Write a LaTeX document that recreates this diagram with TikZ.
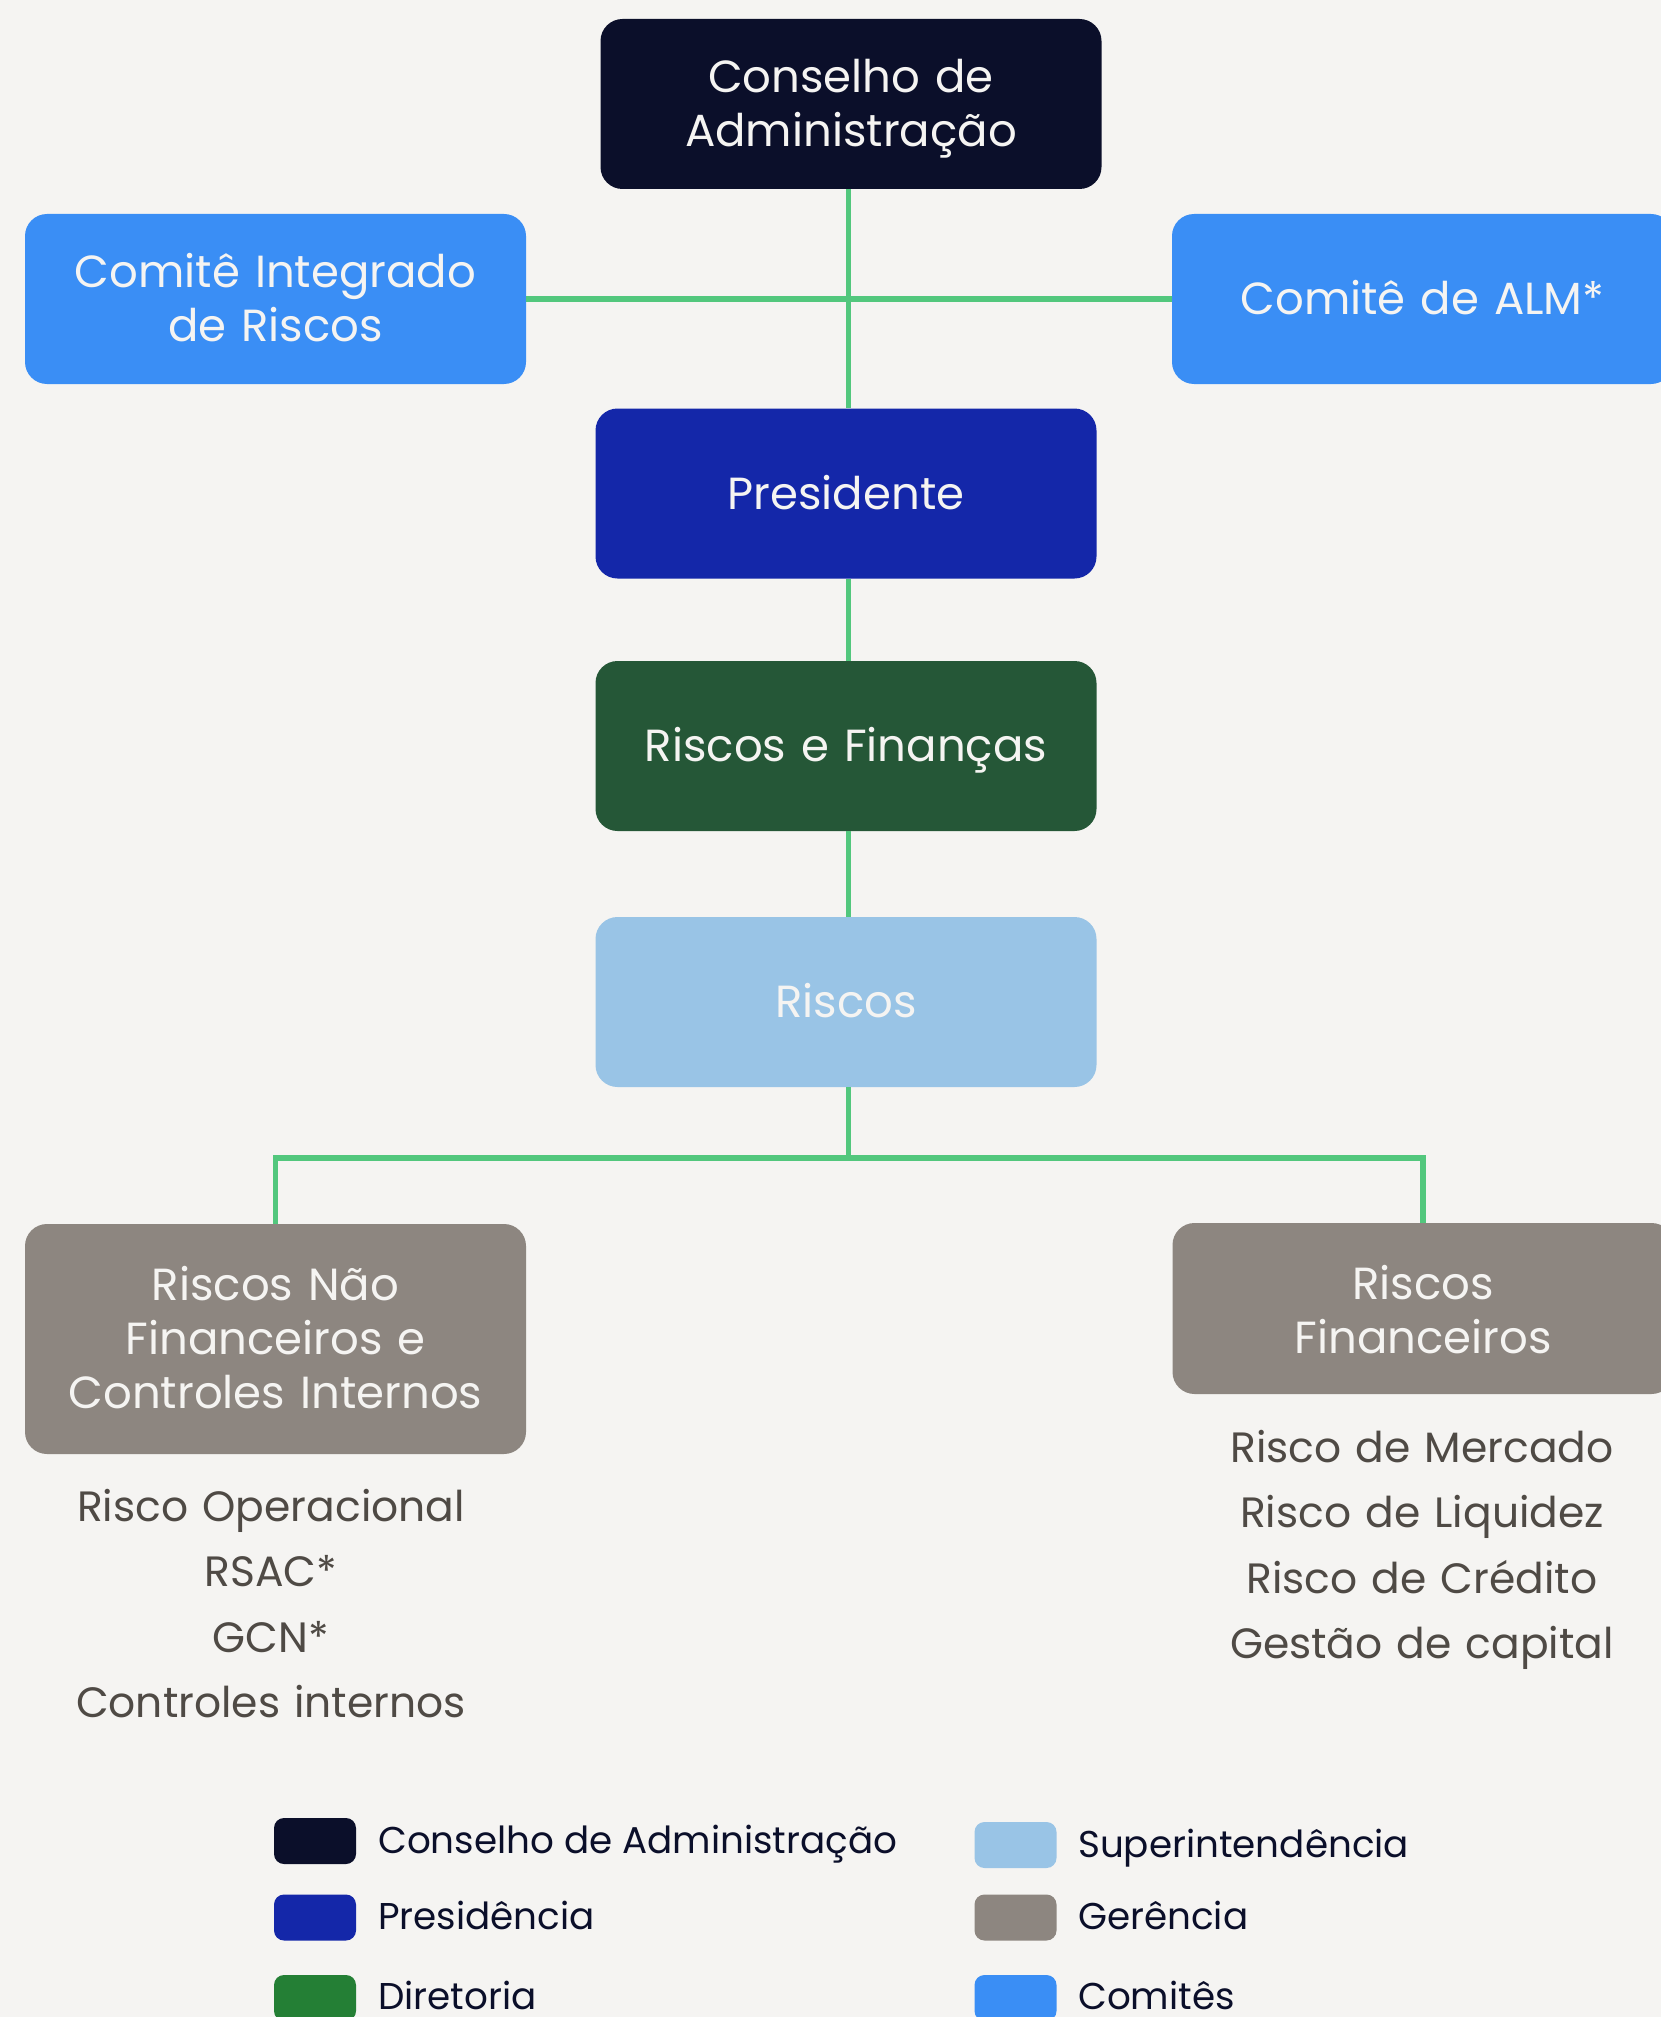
\documentclass[tikz,border=0pt]{standalone}
\usepackage{fontspec}
\setmainfont{Poppins}
\definecolor{bg}{HTML}{F5F4F2}
\definecolor{navy}{HTML}{0B0F2A}
\definecolor{pres}{HTML}{1427A9}
\definecolor{dirbox}{HTML}{255737}
\definecolor{dirleg}{HTML}{247F35}
\definecolor{supt}{HTML}{99C4E6}
\definecolor{ger}{HTML}{8D8680}
\definecolor{comite}{HTML}{3A8EF5}
\definecolor{conn}{HTML}{52C77D}
\definecolor{listtxt}{HTML}{4F4A45}
\definecolor{boxtxt}{HTML}{F5F4F2}
\begin{document}
\begin{tikzpicture}[x=1pt,y=-1pt,
  orgbox/.style={rectangle, rounded corners=22pt, inner sep=0pt,
    minimum width=501pt, minimum height=170pt, text width=495pt,
    align=center, text=boxtxt, font=\fontsize{45}{54}\selectfont,
    text height=31.5pt, text depth=0pt},
  twolines/.style={text depth=54pt},
  threelines/.style={text depth=108pt},
  connline/.style={draw=conn, line width=5.5pt, line cap=butt, line join=miter},
  itemlist/.style={inner sep=0pt, text width=540pt, align=center,
    text=listtxt, font=\fontsize{42.4}{65.5}\selectfont, anchor=base},
  swatch/.style={rectangle, rounded corners=10pt, inner sep=0pt,
    minimum width=82pt, minimum height=46pt},
  legtxt/.style={inner sep=0pt, anchor=base west, text=navy,
    font=\fontsize{37.3}{40}\selectfont}]
\clip (0,0) rectangle (1661,2017);
\fill[bg] (0,0) rectangle (1661,2017);

\coordinate (spine) at (848.5,0);
\coordinate (branch) at (848.5,1158);

% boxes
\node[orgbox, twolines, fill=navy] (cons) at (851,104) {Conselho de\\Administração};
\node[orgbox, twolines, fill=comite] (cir) at (275.5,299) {Comitê Integrado\\de Riscos};
\node[orgbox, fill=comite] (alm) at (1422.5,299) {Comitê de ALM*};
\node[orgbox, fill=pres] (pres) at (846,493.5) {Presidente};
\node[orgbox, fill=dirbox] (rf) at (846,746) {Riscos e Finanças};
\node[orgbox, fill=supt] (riscos) at (846,1002) {Riscos};
\node[orgbox, threelines, fill=ger, minimum height=230pt] (rnf) at (275.5,1339) {Riscos Não\\Financeiros e\\Controles Internos};
\node[orgbox, twolines, text depth=50pt, fill=ger, minimum height=171pt] (rfin) at (1423,1308.5) {Riscos\\Financeiros};

% connectors
\draw[connline] (cons.south -| spine) -- (pres.north -| spine);
\draw[connline] (cir.east) -- (alm.west);
\draw[connline] (pres.south -| spine) -- (rf.north -| spine);
\draw[connline] (rf.south -| spine) -- (riscos.north -| spine);
\draw[connline] (riscos.south -| spine) -- (branch);
\draw[connline] (rnf.north) |- (branch) -| (rfin.north);

% lists
\node[itemlist] (listl) at (271,1521) {Risco Operacional\\RSAC*\\GCN*\\Controles internos};
\node[itemlist] (listr) at (1422,1462) {Risco de Mercado\\Risco de Liquidez\\Risco de Crédito\\Gestão de capital};

% legend
\node[swatch, fill=navy] (sw1) at (315,1841) {};
\node[legtxt] (lg1) at (378,1853) {Conselho de Administração};
\node[swatch, fill=pres] (sw2) at (315,1917.5) {};
\node[legtxt] (lg2) at (378,1929) {Presidência};
\node[swatch, fill=dirleg] (sw3) at (315,1998) {};
\node[legtxt] (lg3) at (378,2009) {Diretoria};
\node[swatch, fill=supt] (sw4) at (1015.5,1845) {};
\node[legtxt] (lg4) at (1078,1857) {Superintendência};
\node[swatch, fill=ger] (sw5) at (1015.5,1917.5) {};
\node[legtxt] (lg5) at (1078,1929) {Gerência};
\node[swatch, fill=comite] (sw6) at (1015.5,1998) {};
\node[legtxt] (lg6) at (1078,2009) {Comitês};
\end{tikzpicture}
\end{document}
